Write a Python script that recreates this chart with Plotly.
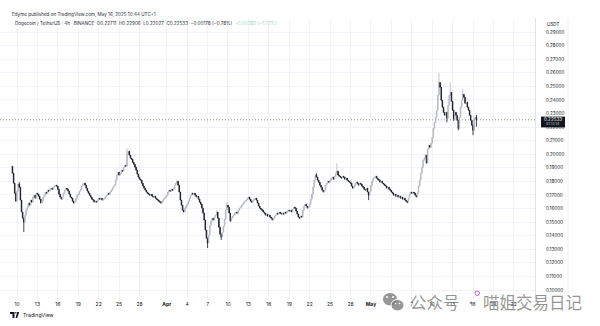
import pandas as pd
import plotly.graph_objects as go

# ---- Dogecoin / TetherUS, 4h candles (BINANCE) ----
first_candle = "2025-03-09 08:00"
first_open = 0.1912

# closes of each 4h candle, one row per day (Mar 9 and May 16 are partial days)
day_closes = [
    [0.1860, 0.1787, 0.1713, 0.1654],                      # Mar 9
    [0.1728, 0.1780, 0.1757, 0.1662, 0.1574, 0.1529],      # Mar 10
    [0.1500, 0.1551, 0.1588, 0.1610, 0.1640, 0.1625],
    [0.1662, 0.1647, 0.1684, 0.1698, 0.1676, 0.1713],
    [0.1706, 0.1691, 0.1669, 0.1640, 0.1654, 0.1684],      # Mar 13
    [0.1698, 0.1720, 0.1713, 0.1735, 0.1728, 0.1742],
    [0.1750, 0.1742, 0.1757, 0.1765, 0.1772, 0.1765],
    [0.1742, 0.1706, 0.1684, 0.1669, 0.1684, 0.1713],      # Mar 16
    [0.1735, 0.1750, 0.1742, 0.1728, 0.1706, 0.1684],
    [0.1676, 0.1654, 0.1640, 0.1654, 0.1676, 0.1698],
    [0.1706, 0.1728, 0.1742, 0.1765, 0.1780, 0.1787],      # Mar 19
    [0.1772, 0.1750, 0.1728, 0.1713, 0.1698, 0.1684],
    [0.1669, 0.1662, 0.1647, 0.1654, 0.1647, 0.1662],
    [0.1676, 0.1669, 0.1676, 0.1662, 0.1669, 0.1676],      # Mar 22
    [0.1691, 0.1698, 0.1713, 0.1706, 0.1721, 0.1735],
    [0.1750, 0.1765, 0.1772, 0.1809, 0.1846, 0.1867],
    [0.1846, 0.1860, 0.1882, 0.1875, 0.1904, 0.1919],      # Mar 25
    [0.1912, 0.2000, 0.2022, 0.1993, 0.1971, 0.1963],
    [0.1941, 0.1926, 0.1904, 0.1882, 0.1853, 0.1831],
    [0.1816, 0.1809, 0.1787, 0.1765, 0.1750, 0.1735],      # Mar 28
    [0.1721, 0.1713, 0.1706, 0.1698, 0.1706, 0.1691],
    [0.1684, 0.1691, 0.1676, 0.1669, 0.1662, 0.1654],
    [0.1647, 0.1640, 0.1654, 0.1669, 0.1676, 0.1684],      # Mar 31
    [0.1698, 0.1721, 0.1735, 0.1728, 0.1742, 0.1735],      # Apr 1
    [0.1750, 0.1772, 0.1787, 0.1801, 0.1772, 0.1721],
    [0.1662, 0.1625, 0.1588, 0.1574, 0.1603, 0.1618],
    [0.1632, 0.1654, 0.1676, 0.1698, 0.1713, 0.1706],      # Apr 4
    [0.1713, 0.1698, 0.1684, 0.1691, 0.1669, 0.1647],
    [0.1632, 0.1603, 0.1566, 0.1515, 0.1441, 0.1382],
    [0.1346, 0.1404, 0.1478, 0.1507, 0.1529, 0.1515],      # Apr 7
    [0.1537, 0.1551, 0.1574, 0.1529, 0.1463, 0.1411],
    [0.1390, 0.1426, 0.1470, 0.1522, 0.1588, 0.1625],
    [0.1610, 0.1566, 0.1507, 0.1529, 0.1544, 0.1551],      # Apr 10
    [0.1566, 0.1574, 0.1566, 0.1588, 0.1603, 0.1610],
    [0.1625, 0.1632, 0.1647, 0.1654, 0.1662, 0.1676],
    [0.1684, 0.1669, 0.1654, 0.1647, 0.1662, 0.1669],      # Apr 13
    [0.1676, 0.1662, 0.1640, 0.1618, 0.1603, 0.1595],
    [0.1588, 0.1574, 0.1566, 0.1551, 0.1559, 0.1544],
    [0.1551, 0.1537, 0.1529, 0.1515, 0.1529, 0.1544],      # Apr 16
    [0.1551, 0.1566, 0.1559, 0.1574, 0.1566, 0.1559],
    [0.1566, 0.1559, 0.1574, 0.1566, 0.1581, 0.1588],
    [0.1581, 0.1588, 0.1574, 0.1595, 0.1610, 0.1603],      # Apr 19
    [0.1581, 0.1559, 0.1537, 0.1529, 0.1544, 0.1537],
    [0.1588, 0.1618, 0.1632, 0.1618, 0.1603, 0.1610],
    [0.1632, 0.1669, 0.1706, 0.1757, 0.1809, 0.1846],      # Apr 22
    [0.1831, 0.1809, 0.1794, 0.1772, 0.1757, 0.1735],
    [0.1721, 0.1735, 0.1772, 0.1787, 0.1801, 0.1794],
    [0.1809, 0.1824, 0.1831, 0.1816, 0.1838, 0.1860],      # Apr 25
    [0.1875, 0.1846, 0.1838, 0.1831, 0.1824, 0.1838],
    [0.1831, 0.1816, 0.1824, 0.1809, 0.1801, 0.1794],
    [0.1787, 0.1765, 0.1750, 0.1765, 0.1780, 0.1794],      # Apr 28
    [0.1787, 0.1772, 0.1787, 0.1780, 0.1765, 0.1757],
    [0.1742, 0.1735, 0.1750, 0.1721, 0.1698, 0.1728],
    [0.1772, 0.1801, 0.1824, 0.1831, 0.1838, 0.1824],      # May 1
    [0.1816, 0.1809, 0.1794, 0.1801, 0.1787, 0.1780],
    [0.1772, 0.1765, 0.1750, 0.1757, 0.1742, 0.1735],
    [0.1721, 0.1713, 0.1698, 0.1706, 0.1691, 0.1698],      # May 4
    [0.1684, 0.1691, 0.1676, 0.1684, 0.1669, 0.1676],
    [0.1662, 0.1654, 0.1647, 0.1676, 0.1706, 0.1721],
    [0.1713, 0.1721, 0.1713, 0.1698, 0.1684, 0.1713],      # May 7
    [0.1765, 0.1809, 0.1860, 0.1904, 0.1956, 0.1971],
    [0.1993, 0.1934, 0.2037, 0.2066, 0.2051, 0.2081],
    [0.2125, 0.2191, 0.2235, 0.2272, 0.2324, 0.2434],      # May 10
    [0.2529, 0.2493, 0.2397, 0.2346, 0.2309, 0.2287],
    [0.2309, 0.2265, 0.2360, 0.2434, 0.2456, 0.2390],
    [0.2324, 0.2250, 0.2309, 0.2287, 0.2250, 0.2191],      # May 13
    [0.2272, 0.2346, 0.2397, 0.2441, 0.2419, 0.2375],
    [0.2382, 0.2346, 0.2324, 0.2287, 0.2250, 0.2213],
    [0.2176, 0.2265, 0.22711, 0.22533],                     # May 16
]

# wicks that reach beyond the candle body
wick_highs = {
    "2025-03-10 08:00": 0.1794, "2025-03-26 04:00": 0.2044,
    "2025-04-02 12:00": 0.1809, "2025-04-08 08:00": 0.1588,
    "2025-04-09 20:00": 0.1647, "2025-04-23 00:00": 0.1860,
    "2025-04-26 00:00": 0.1934, "2025-05-09 00:00": 0.2000,
    "2025-05-11 00:00": 0.2596, "2025-05-12 16:00": 0.2529,
    "2025-05-14 12:00": 0.2478, "2025-05-16 12:00": 0.22906,
}
wick_lows = {
    "2025-03-11 00:00": 0.1426, "2025-04-07 00:00": 0.1309,
    "2025-04-09 00:00": 0.1368, "2025-04-30 16:00": 0.1662,
    "2025-05-06 08:00": 0.1640, "2025-05-12 04:00": 0.2235,
    "2025-05-13 20:00": 0.2176, "2025-05-16 00:00": 0.2140,
    "2025-05-16 12:00": 0.22027,
}

# time axis: a label every third day, month names in bold
tick_dates = ["2025-03-10", "2025-03-13", "2025-03-16", "2025-03-19", "2025-03-22",
              "2025-03-25", "2025-03-28", "2025-04-01", "2025-04-04", "2025-04-07",
              "2025-04-10", "2025-04-13", "2025-04-16", "2025-04-19", "2025-04-22",
              "2025-04-25", "2025-04-28", "2025-05-01", "2025-05-04", "2025-05-07",
              "2025-05-10", "2025-05-13", "2025-05-16", "2025-05-19", "2025-05-22"]
tick_texts = ["10", "13", "16", "19", "22", "25", "28", "<b>Apr</b>", "4", "7",
              "10", "13", "16", "19", "22", "25", "28", "<b>May</b>", "4", "7",
              "10", "13", "16", "19", "22"]
price_ticks = [0.10, 0.11, 0.12, 0.13, 0.14, 0.15, 0.16, 0.17, 0.18, 0.19,
               0.20, 0.21, 0.22, 0.23, 0.24, 0.25, 0.26, 0.27, 0.28, 0.29]

last_price = 0.22533
header_author = "Edyme published on TradingView.com, May 16, 2025 10:44 UTC+1"
header_symbol = "Dogecoin / TetherUS · 4h · BINANCE"
header_ohlc = "O0.22711  H0.22906  L0.22027  C0.22533  −0.00178 (−0.78%)"
header_extra = "+0.00380 (+1.72%)"

# ---- build OHLC ----
closes = [c for day in day_closes for c in day]
times = pd.date_range(first_candle, periods=len(closes), freq="4h")
opens = [first_open] + closes[:-1]
highs, lows = [], []
for t, o, c in zip(times, opens, closes):
    key = t.strftime("%Y-%m-%d %H:%M")
    highs.append(max(o, c, wick_highs.get(key, 0)))
    lows.append(min(o, c, wick_lows.get(key, 1)))

UP = "#b2b5be"
DOWN = "#131722"

fig = go.Figure(go.Candlestick(
    x=times, open=opens, high=highs, low=lows, close=closes,
    increasing=dict(line=dict(color=UP, width=0.8), fillcolor=UP),
    decreasing=dict(line=dict(color=DOWN, width=0.8), fillcolor=DOWN),
    whiskerwidth=0, hoverinfo="skip", showlegend=False,
))

W, H = 600, 326
ML, MR, MT, MB = 0, 65, 18, 27
PW, PH = W - ML - MR, H - MT - MB


def px(x):
    return (x - ML) / PW


def py(y):
    return (H - MB - y) / PH


FONT = "Inter, Roboto, sans-serif"
TXT = "#131722"
GRID = "#f0f3fa"

fig.update_layout(
    width=W, height=H,
    margin=dict(l=ML, r=MR, t=MT, b=MB, pad=0),
    paper_bgcolor="white", plot_bgcolor="white",
    font=dict(family=FONT, color=TXT, size=5),
    xaxis=dict(
        type="date", range=["2025-03-07 12:03", "2025-05-25 02:38"],
        rangeslider=dict(visible=False),
        tickvals=tick_dates, ticktext=tick_texts,
        tickfont=dict(size=5, color=TXT, family=FONT),
        showgrid=True, gridcolor=GRID, gridwidth=1,
        ticks="", ticklabelstandoff=1, showline=False, zeroline=False,
        fixedrange=True,
    ),
    yaxis=dict(
        side="right", range=[0.09337, 0.30031],
        tickvals=price_ticks, ticktext=[f"{v:.5f}" for v in price_ticks],
        tickfont=dict(size=4.6, color=TXT, family=FONT),
        showgrid=True, gridcolor=GRID, gridwidth=1,
        ticks="", ticklabelstandoff=9,
        showline=True, linecolor="#e0e3eb", linewidth=1,
        zeroline=False, fixedrange=True,
    ),
)

shapes = []
annotations = []

# last-price dotted line across the chart
shapes.append(dict(type="line", xref="paper", yref="y", x0=0, x1=1,
                   y0=last_price, y1=last_price,
                   line=dict(color="#8a8d96", width=1, dash="1px,2px"), layer="above"))
# last-price label on the price scale
shapes.append(dict(type="rect", xref="paper", yref="y",
                   x0=px(541), x1=px(565),
                   y0=last_price - 7.6 / 1358, y1=last_price + 3.2 / 1358,
                   fillcolor="#131722", line=dict(width=0), layer="above"))
annotations.append(dict(xref="paper", yref="y", x=px(553), y=last_price,
                        text=f"{last_price:.5f}", showarrow=False,
                        font=dict(size=4.6, color="white", family=FONT),
                        xanchor="center", yanchor="middle"))
annotations.append(dict(xref="paper", yref="y", x=px(553), y=last_price - 4.6 / 1358,
                        text="01:13:14", showarrow=False,
                        font=dict(size=3.6, color="#c8cad0", family=FONT),
                        xanchor="center", yanchor="middle"))
# currency caption on the price scale
annotations.append(dict(xref="paper", yref="paper", x=px(553), y=py(24),
                        text="USDT", showarrow=False,
                        font=dict(size=4.6, color=TXT, family=FONT),
                        xanchor="center", yanchor="middle"))
# right border of the price scale
shapes.append(dict(type="line", xref="paper", yref="paper",
                   x0=px(568), x1=px(568), y0=py(299), y1=py(18),
                   line=dict(color="#f0f1f4", width=1)))

# legend header
annotations.append(dict(xref="paper", yref="paper", x=px(10), y=py(14),
                        text=header_author, showarrow=False,
                        font=dict(size=4.6, color="#2a2e39", family=FONT),
                        xanchor="left", yanchor="middle"))
annotations.append(dict(xref="paper", yref="paper", x=px(13), y=py(23),
                        text=(f"{header_symbol}  {header_ohlc}  "
                              f"<span style='color:#9fd8bb'>{header_extra}</span>"),
                        showarrow=False,
                        font=dict(size=4.6, color="#2a2e39", family=FONT),
                        xanchor="left", yanchor="middle"))

# TradingView mark, bottom left
logo = (f"M {px(10)} {py(312)} L {px(14.5)} {py(312)} L {px(14.5)} {py(318)} "
        f"L {px(12.5)} {py(318)} L {px(12.5)} {py(314)} L {px(10)} {py(314)} Z")
shapes.append(dict(type="path", xref="paper", yref="paper", path=logo,
                   fillcolor=TXT, line=dict(width=0)))
shapes.append(dict(type="circle", xref="paper", yref="paper",
                   x0=px(15), x1=px(16.6), y0=py(313.6), y1=py(312),
                   fillcolor=TXT, line=dict(width=0)))
tri = (f"M {px(17.2)} {py(312)} L {px(19.2)} {py(312)} L {px(17.2)} {py(318)} "
       f"L {px(15.6)} {py(318)} Z")
shapes.append(dict(type="path", xref="paper", yref="paper", path=tri,
                   fillcolor=TXT, line=dict(width=0)))
annotations.append(dict(xref="paper", yref="paper", x=px(20.5), y=py(315),
                        text="TradingView", showarrow=False,
                        font=dict(size=5.2, color=TXT, family=FONT),
                        xanchor="left", yanchor="middle"))

# WeChat account watermark
WM = "rgba(120,120,120,0.78)"
shapes.append(dict(type="circle", xref="paper", yref="paper",
                   x0=px(382.5), x1=px(397.5), y0=py(306), y1=py(292.5),
                   fillcolor=WM, line=dict(color="white", width=1)))
shapes.append(dict(type="circle", xref="paper", yref="paper",
                   x0=px(391), x1=px(404), y0=py(311), y1=py(299.5),
                   fillcolor=WM, line=dict(color="white", width=1)))
for ex, ey, r in [(387, 297, 1.0), (393, 297, 1.0), (395.5, 303.5, 0.8), (399.5, 303.5, 0.8)]:
    shapes.append(dict(type="circle", xref="paper", yref="paper",
                       x0=px(ex - r), x1=px(ex + r), y0=py(ey + r), y1=py(ey - r),
                       fillcolor="white", line=dict(width=0)))
annotations.append(dict(xref="paper", yref="paper", x=px(408), y=py(302),
                        text="公众号", showarrow=False,
                        font=dict(size=16.5, color=WM, family="Noto Sans CJK SC"),
                        xanchor="left", yanchor="middle"))
annotations.append(dict(xref="paper", yref="paper", x=px(471), y=py(302),
                        text="·", showarrow=False,
                        font=dict(size=12, color=WM, family="Noto Sans CJK SC"),
                        xanchor="center", yanchor="middle"))
shapes.append(dict(type="circle", xref="paper", yref="paper",
                   x0=px(475), x1=px(479.5), y0=py(295.5), y1=py(291),
                   fillcolor="rgba(255,255,255,0.9)", line=dict(color="#c05fd0", width=1)))
annotations.append(dict(xref="paper", yref="paper", x=px(481), y=py(302),
                        text="喵姐交易日记", showarrow=False,
                        font=dict(size=16.5, color=WM, family="Noto Sans CJK SC"),
                        xanchor="left", yanchor="middle"))

fig.update_layout(shapes=shapes, annotations=annotations)
fig.write_html("out.html")
